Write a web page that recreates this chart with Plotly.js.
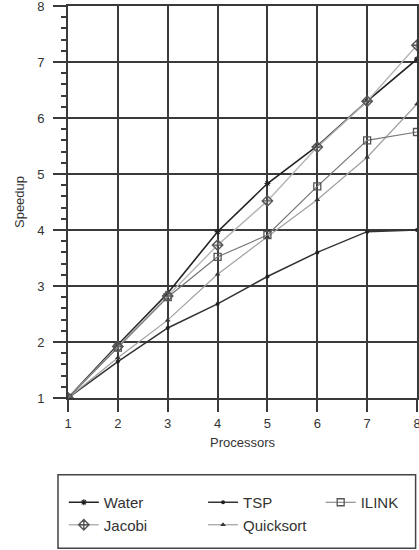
<!DOCTYPE html>
<html>
<head>
<meta charset="utf-8">
<script src="https://cdn.plot.ly/plotly-3.0.1.min.js"></script>
<style>html,body{margin:0;padding:0;background:#fff;}#chart{width:419px;height:550px;}</style>
</head>
<body>
<div id="chart"></div>
<script>
const processors = [1, 2, 3, 4, 5, 6, 7, 8];
const water     = [1, 1.95, 2.87, 3.97, 4.83, 5.50, 6.30, 7.05];
const jacobi    = [1, 1.92, 2.82, 3.73, 4.52, 5.48, 6.30, 7.30];
const tsp       = [1, 1.65, 2.25, 2.68, 3.17, 3.60, 3.97, 4.00];
const quicksort = [1, 1.72, 2.39, 3.21, 3.88, 4.54, 5.30, 6.25];
const ilink     = [1, 1.90, 2.80, 3.52, 3.91, 4.78, 5.60, 5.75];
const xTicks = [1, 2, 3, 4, 5, 6, 7, 8];
const yTicks = [1, 2, 3, 4, 5, 6, 7, 8];

const traces = [
  {name: 'Water', y: water, leg: 'legend', color: '#222', width: 1.6,
   marker: {symbol: 'asterisk-open', size: 5, color: '#222', line: {width: 1.2, color: '#222'}}},
  {name: 'Jacobi', y: jacobi, leg: 'legend', color: '#b5b5b5', width: 1.4,
   marker: {symbol: 'diamond-cross-open', size: 8, color: '#555', line: {width: 1.4, color: '#555'}}},
  {name: 'TSP', y: tsp, leg: 'legend2', color: '#333', width: 1.5,
   marker: {symbol: 'circle', size: 4, color: '#222'}},
  {name: 'Quicksort', y: quicksort, leg: 'legend2', color: '#a0a0a0', width: 1.2,
   marker: {symbol: 'triangle-up', size: 5, color: '#333'}},
  {name: 'ILINK', y: ilink, leg: 'legend3', color: '#777', width: 1.2,
   marker: {symbol: 'square-open', size: 7, color: '#555', line: {width: 1.3, color: '#555'}}}
].map(t => ({
  type: 'scatter', mode: 'lines+markers', x: processors, y: t.y, name: t.name,
  legend: t.leg, line: {color: t.color, width: t.width},
  marker: t.marker
}));

const gridColor = '#3a3a3a';
const legBase = {
  orientation: 'v', xanchor: 'left', y: -0.2245, yanchor: 'top',
  borderwidth: 0, bgcolor: 'rgba(0,0,0,0)', itemwidth: 30,
  font: {size: 15, color: '#333'}, traceorder: 'normal'
};
const layout = {
  width: 419, height: 550,
  margin: {l: 68, r: 2, t: 6, b: 152},
  paper_bgcolor: '#fff', plot_bgcolor: '#fff',
  font: {family: 'Liberation Sans, Arial, sans-serif', size: 13, color: '#333'},
  showlegend: true,
  xaxis: {
    range: [1, 8], tickvals: xTicks, ticktext: xTicks.map(String),
    showgrid: true, gridcolor: gridColor, gridwidth: 2,
    showline: true, mirror: true, linecolor: gridColor, linewidth: 2,
    ticks: 'outside', ticklen: 12, tickwidth: 2, tickcolor: gridColor,
    ticklabeloverflow: 'allow',
    zeroline: false, fixedrange: true,
    title: {text: 'Processors', font: {size: 13, color: '#333'}, standoff: 8}
  },
  yaxis: {
    range: [1, 8], tickvals: yTicks, ticktext: yTicks.map(String),
    showgrid: true, gridcolor: gridColor, gridwidth: 2,
    showline: true, mirror: true, linecolor: gridColor, linewidth: 2,
    ticks: 'outside', ticklen: 13, tickwidth: 2, tickcolor: gridColor,
    ticklabelstandoff: 6, ticklabeloverflow: 'allow',
    minor: {dtick: 0.2, ticks: 'outside', ticklen: 5, tickwidth: 2, tickcolor: gridColor, showgrid: false},
    zeroline: false, fixedrange: true,
    title: {text: 'Speedup', font: {size: 13, color: '#333'}, standoff: 10}
  },
  shapes: [{
    type: 'rect', xref: 'paper', yref: 'paper',
    x0: -0.0287, x1: 0.996, y0: -0.383, y1: -0.196,
    line: {color: '#444', width: 1.5}, fillcolor: 'rgba(0,0,0,0)'
  }],
  legend: Object.assign({}, legBase, {x: -0.012}),
  legend2: Object.assign({}, legBase, {x: 0.387}),
  legend3: Object.assign({}, legBase, {x: 0.724})
};

Plotly.newPlot('chart', traces, layout, {staticPlot: true});
</script>
</body>
</html>
